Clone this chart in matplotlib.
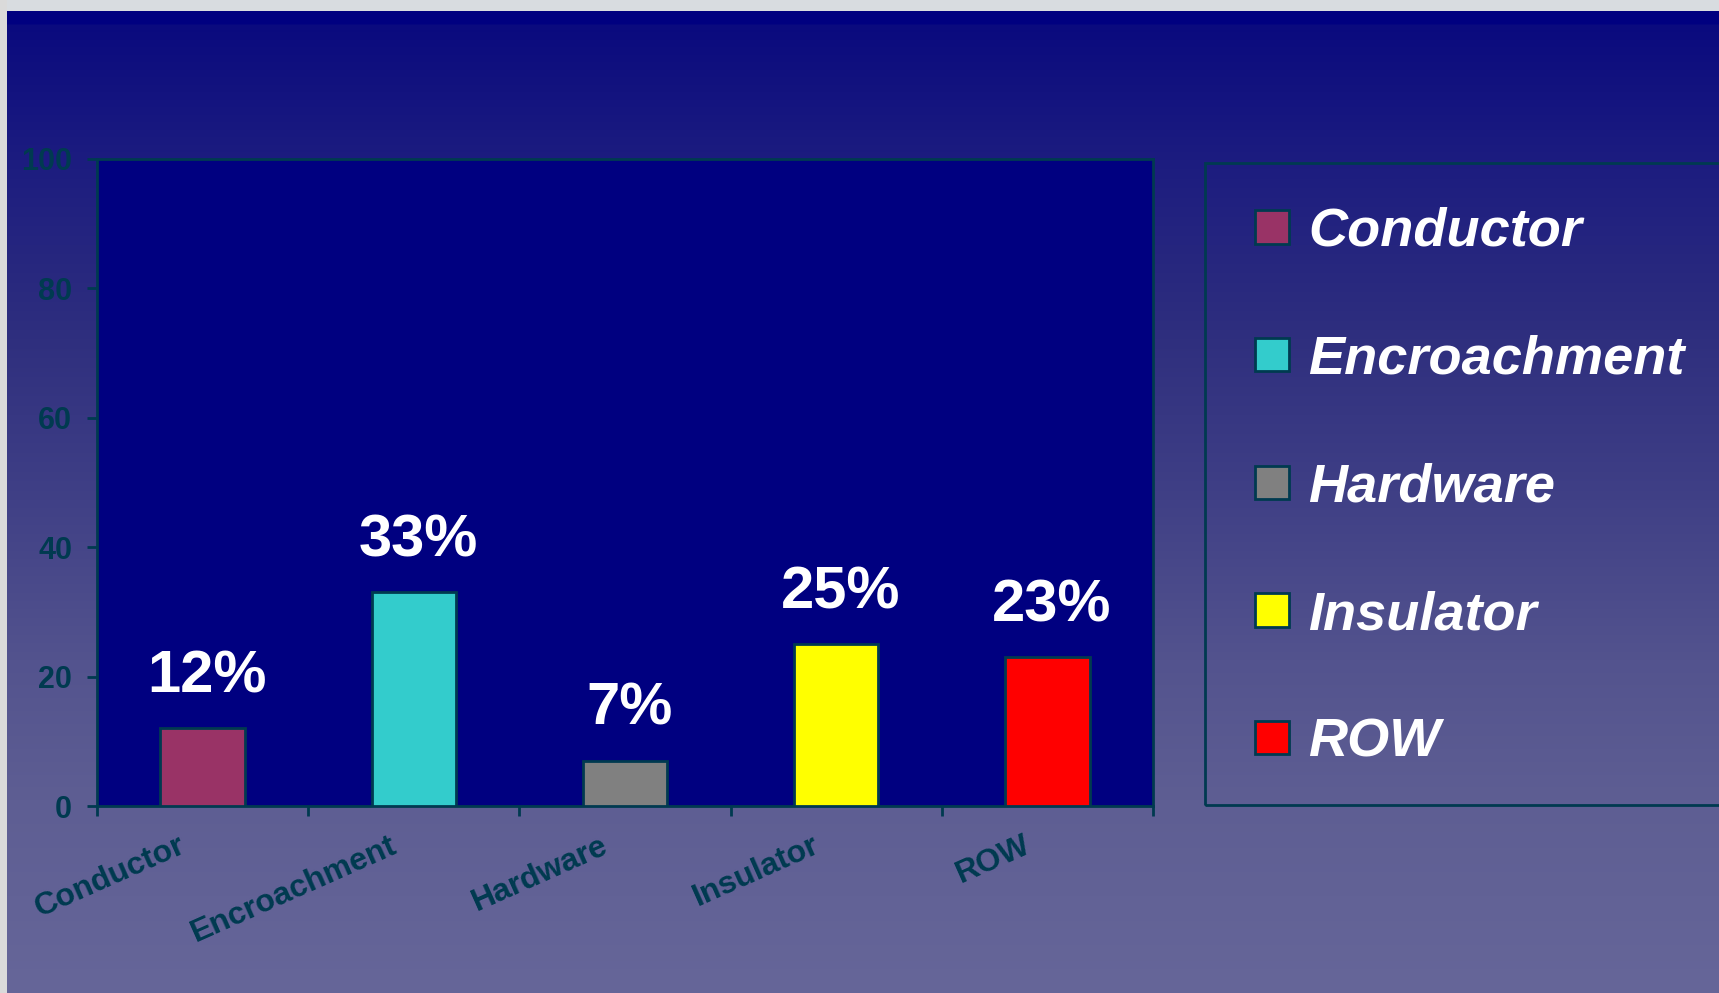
import numpy as np
import matplotlib
matplotlib.use("Agg")
import matplotlib.pyplot as plt
from matplotlib.patches import Rectangle
from matplotlib.transforms import ScaledTranslation

# ---------------- data ----------------
categories = ["Conductor", "Encroachment", "Hardware", "Insulator", "ROW"]
values = [12, 33, 7, 25, 23]
bar_colors = ["#993366", "#33CCCC", "#808080", "#FFFF00", "#FF0000"]
y_ticks = [0, 20, 40, 60, 80, 100]

# ---------------- style ----------------
plt.rcParams["font.family"] = ["Liberation Sans", "DejaVu Sans"]
TEAL = "#003a50"
W, H, DPI = 1719, 993, 100

fig = plt.figure(figsize=(W / DPI, H / DPI), dpi=DPI)
fig.patch.set_facecolor("#dcdcdc")


def fx(px):
    return px / W


def fy(py):
    return 1 - py / H


# ---------------- background gradient ----------------
bg = fig.add_axes([0, 0, 1, 1], zorder=-10)
bg.set_axis_off()
stop_y = [0, 11, 24, 25, 160, 330, 500, 660, 800, 993]
stop_c = [(0, 0, 128), (0, 0, 128), (0, 0, 128), (10, 10, 126), (28, 28, 128),
          (46, 46, 126), (64, 64, 134), (83, 83, 142), (94, 94, 147), (102, 102, 153)]
yy = np.arange(H) + 0.5
grad = np.zeros((H, 1, 3))
for k in range(3):
    grad[:, 0, k] = np.interp(yy, stop_y, [c[k] for c in stop_c]) / 255.0
bg.imshow(grad, extent=[0, W, H, 0], aspect="auto", interpolation="nearest")
bg.set_xlim(0, W)
bg.set_ylim(H, 0)
bg.add_patch(Rectangle((0, 0), W, 11, color="#d8dce0", lw=0))
bg.add_patch(Rectangle((0, 0), 7, H, color="#dadada", lw=0))

# ---------------- main axes ----------------
ax = fig.add_axes([fx(97), fy(806), fx(1153 - 97), (806 - 159) / H])
ax.set_facecolor("#000080")
x = np.arange(len(categories))
bars = ax.bar(x, values, width=0.4, color=bar_colors, edgecolor=TEAL, linewidth=2, zorder=3)

ax.set_xlim(-0.5, len(categories) - 0.5)
ax.set_ylim(0, 100)
ax.set_yticks(y_ticks)
ax.set_yticklabels([str(t) for t in y_ticks], fontsize=22, fontweight="bold", color=TEAL)

# ticks at category boundaries, labels at category centres
ax.set_xticks(np.arange(len(categories) + 1) - 0.5)
ax.set_xticklabels([])
lbl_tr = ax.get_xaxis_transform() + ScaledTranslation(-0.245, -0.245, fig.dpi_scale_trans)
for xi, name in zip(x, categories):
    ax.text(xi, 0, name, transform=lbl_tr, rotation=24, ha="right", va="top",
            rotation_mode="anchor", fontsize=23, fontweight="bold", color=TEAL)

ax.tick_params(axis="both", which="major", direction="out", length=7, width=2, color=TEAL)
ax.tick_params(axis="y", which="major", pad=11)
for sp in ax.spines.values():
    sp.set_color(TEAL)
    sp.set_linewidth(2)

for xi, v in zip(x, values):
    ax.annotate(f"{v}%", (xi, v), xytext=(3, 26), textcoords="offset points",
                ha="center", va="baseline", fontsize=43, fontweight="bold", color="white")

# ---------------- legend ----------------
fig.patches.append(Rectangle((fx(1205), fy(805)), fx(700), (805 - 163) / H,
                             transform=fig.transFigure, fill=False, edgecolor=TEAL, lw=2))
leg = ax.legend(handles=list(bars), labels=categories, loc="upper left",
                bbox_to_anchor=(fx(1255), fy(207)), bbox_transform=fig.transFigure,
                frameon=False, borderpad=0, borderaxespad=0,
                prop={"family": "Liberation Sans", "weight": "bold", "style": "italic", "size": 39},
                handlelength=0.63, handleheight=0.57, handletextpad=0.35, labelspacing=1.435)
for t in leg.get_texts():
    t.set_color("white")

fig.savefig("out.png", dpi=DPI)
